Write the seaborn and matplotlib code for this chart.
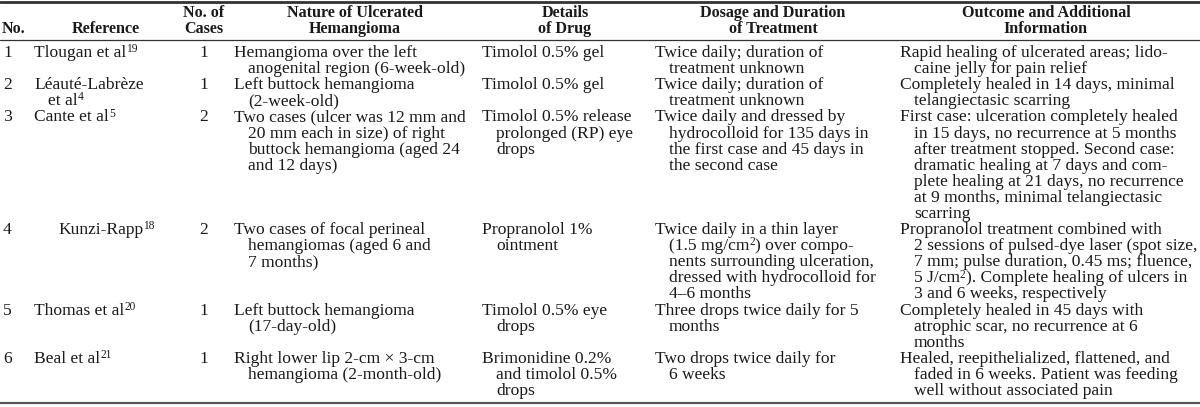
import re
import matplotlib
matplotlib.use("Agg")
import matplotlib.pyplot as plt
import seaborn as sns

# ---------------------------------------------------- Table content ----------------------------------------------------
headers = [
    "No.",
    "Reference",
    "No. of\nCases",
    "Nature of Ulcerated\nHemangioma",
    "Details\nof Drug",
    "Dosage and Duration\nof Treatment",
    "Outcome and Additional\nInformation",
]

numbers = ["1", "2", "3", "4", "5", "6"]

# ^{..} marks a superscript
references = [
    "Tlougan et al^{19}",
    "Léauté-Labrèze\net al^{4}",
    "Cante et al^{5}",
    "Kunzi-Rapp^{18}",
    "Thomas et al^{20}",
    "Beal et al^{21}",
]

cases = ["1", "1", "2", "2", "1", "1"]

nature = [
    "Hemangioma over the left\nanogenital region (6-week-old)",
    "Left buttock hemangioma\n(2-week-old)",
    "Two cases (ulcer was 12 mm and\n20 mm each in size) of right\nbuttock hemangioma (aged 24\nand 12 days)",
    "Two cases of focal perineal\nhemangiomas (aged 6 and\n7 months)",
    "Left buttock hemangioma\n(17-day-old)",
    "Right lower lip 2-cm × 3-cm\nhemangioma (2-month-old)",
]

drug = [
    "Timolol 0.5% gel",
    "Timolol 0.5% gel",
    "Timolol 0.5% release\nprolonged (RP) eye\ndrops",
    "Propranolol 1%\nointment",
    "Timolol 0.5% eye\ndrops",
    "Brimonidine 0.2%\nand timolol 0.5%\ndrops",
]

dosage = [
    "Twice daily; duration of\ntreatment unknown",
    "Twice daily; duration of\ntreatment unknown",
    "Twice daily and dressed by\nhydrocolloid for 135 days in\nthe first case and 45 days in\nthe second case",
    "Twice daily in a thin layer\n(1.5 mg/cm^{2}) over compo-\nnents surrounding ulceration,\ndressed with hydrocolloid for\n4–6 months",
    "Three drops twice daily for 5\nmonths",
    "Two drops twice daily for\n6 weeks",
]

outcome = [
    "Rapid healing of ulcerated areas; lido-\ncaine jelly for pain relief",
    "Completely healed in 14 days, minimal\ntelangiectasic scarring",
    "First case: ulceration completely healed\nin 15 days, no recurrence at 5 months\nafter treatment stopped. Second case:\ndramatic healing at 7 days and com-\nplete healing at 21 days, no recurrence\nat 9 months, minimal telangiectasic\nscarring",
    "Propranolol treatment combined with\n2 sessions of pulsed-dye laser (spot size,\n7 mm; pulse duration, 0.45 ms; fluence,\n5 J/cm^{2}). Complete healing of ulcers in\n3 and 6 weeks, respectively",
    "Completely healed in 45 days with\natrophic scar, no recurrence at 6\nmonths",
    "Healed, reepithelialized, flattened, and\nfaded in 6 weeks. Patient was feeding\nwell without associated pain",
]

# ---------------------------------------------------- Drawing ----------------------------------------------------
sns.set_theme(style="white")
plt.rcParams["font.family"] = ["Liberation Serif", "DejaVu Serif"]

W, H = 1200, 407
fig = plt.figure(figsize=(W / 100, H / 100), dpi=100)
ax = fig.add_axes([0, 0, 1, 1])
ax.set_xlim(0, W)
ax.set_ylim(H, 0)
ax.axis("off")
renderer = fig.canvas.get_renderer()

FS = 12.6
HFS = 11.6
STEP = 16.1
INDENT = 14
ink = "#1a1a1a"


def put_line(x, y, s):
    # draw a line of text piece by piece so superscripts stay small
    for k, part in enumerate(re.split(r"\^\{(.*?)\}", s)):
        if not part:
            continue
        sup = k % 2 == 1
        t = ax.text(x, y - (4.8 if sup else 0), part, ha="left", va="baseline",
                    fontsize=FS * 0.66 if sup else FS, color=ink)
        x += t.get_window_extent(renderer).width


# header: (x, alignment)
head_pos = [(2, "left"), (140, "right"), (204, "center"), (355, "center"),
            (565, "center"), (773, "center"), (1046, "center")]
for (x, ha), txt in zip(head_pos, headers):
    lines = txt.split("\n")
    y0 = 17 if len(lines) == 2 else 33
    for k, ln in enumerate(lines):
        ax.text(x, y0 + k * STEP, ln, ha=ha, va="baseline", fontsize=HFS,
                fontweight="bold", color=ink)

# rules
ax.axhline(1.5, color="#333333", lw=2.0)
ax.axhline(39.5, color="#333333", lw=0.9)
ax.axhline(403, color="#555555", lw=1.6)

# body columns: (data list, x of first line, indent used for wrapped lines)
columns = [
    (numbers, 3, 0),
    (references, 34, INDENT),
    (cases, 199, 0),
    (nature, 234, INDENT),
    (drug, 482, INDENT),
    (dosage, 655, INDENT),
    (outcome, 900, INDENT),
]
ref_x = {3: 58}  # Kunzi-Rapp entry sits further right in the source

y = 57
for i in range(len(numbers)):
    n_lines = 1
    for data, x, ind in columns:
        lines = data[i].split("\n")
        n_lines = max(n_lines, len(lines))
        x0 = ref_x.get(i, x) if data is references else x
        for k, ln in enumerate(lines):
            put_line(x0 + (ind if k else 0), y + k * STEP, ln)
    y += n_lines * STEP

fig.savefig("out.png", dpi=100, facecolor="white")
